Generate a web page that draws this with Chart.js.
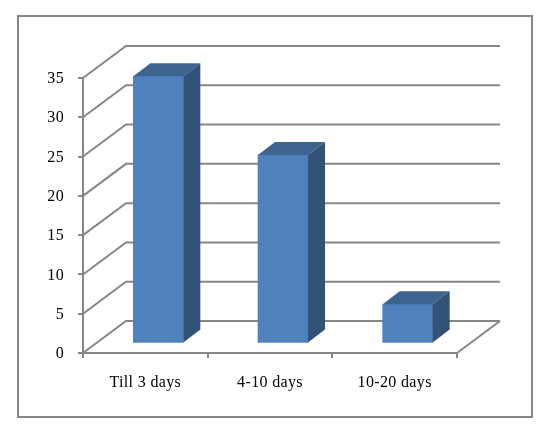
<!DOCTYPE html>
<html>
<head>
<meta charset="utf-8">
<script src="https://cdn.jsdelivr.net/npm/chart.js@4"></script>
<style>
  html, body { margin: 0; padding: 0; background: #fff; }
  #wrap { width: 550px; height: 439px; }
</style>
</head>
<body>
<div id="wrap"><canvas id="myChart"></canvas></div>
<script>
const categories = ['Till 3 days', '4-10 days', '10-20 days'];
const dayCounts = [34, 24, 5];
const yTicks = [0, 5, 10, 15, 20, 25, 30, 35];

const lineColor = '#868686';
const wallDx = 43, wallDy = 32;   // depth of the floor
const barDx = 13, barDy = 9.5;    // bars stand inside the floor
const sideDx = 17, sideDy = 13;   // depth of a bar

const frame3d = {
  id: 'frame3d',
  beforeDraw(chart) {
    const c = chart.ctx;
    c.letterSpacing = '0.35px'; // the labels in the picture run wide
    c.save();
    c.strokeStyle = lineColor;
    c.lineWidth = 2;
    c.strokeRect(18, 16, 514, 401);
    c.restore();
  },
  beforeDatasetsDraw(chart) {
    const c = chart.ctx, a = chart.chartArea, y = chart.scales.y;
    c.save();
    c.strokeStyle = lineColor;
    c.lineWidth = 2;
    c.beginPath();
    yTicks.forEach(v => {
      const py = y.getPixelForValue(v);
      c.moveTo(a.left, py);
      c.lineTo(a.left + wallDx, py - wallDy);
      c.lineTo(a.right + wallDx, py - wallDy);
    });
    // right edge of the floor
    c.moveTo(a.right, a.bottom);
    c.lineTo(a.right + wallDx, a.bottom - wallDy);
    c.stroke();
    c.restore();
  },
  beforeDatasetDraw(chart) {
    chart.ctx.save();
    chart.ctx.translate(barDx, -barDy);
  },
  afterDatasetDraw(chart, args) {
    const c = chart.ctx;
    args.meta.data.forEach(bar => {
      const l = bar.x - bar.width / 2, r = bar.x + bar.width / 2;
      c.fillStyle = '#3d6491';
      c.beginPath();
      c.moveTo(l, bar.y);
      c.lineTo(l + sideDx, bar.y - sideDy);
      c.lineTo(r + sideDx, bar.y - sideDy);
      c.lineTo(r, bar.y);
      c.closePath();
      c.fill();
      c.fillStyle = '#325278';
      c.beginPath();
      c.moveTo(r, bar.y);
      c.lineTo(r + sideDx, bar.y - sideDy);
      c.lineTo(r + sideDx, bar.base - sideDy);
      c.lineTo(r, bar.base);
      c.closePath();
      c.fill();
    });
    c.restore();
  }
};

new Chart(document.getElementById('myChart').getContext('2d'), {
  type: 'bar',
  data: {
    labels: categories,
    datasets: [{
      data: dayCounts,
      backgroundColor: '#4f81bd',
      borderWidth: 0,
      barThickness: 50
    }]
  },
  options: {
    responsive: true,
    maintainAspectRatio: false,
    animation: false,
    events: [],
    layout: { padding: { top: 78, right: 93, left: 0, bottom: 0 } },
    plugins: { legend: { display: false }, tooltip: { enabled: false } },
    scales: {
      x: {
        afterFit(s) { s.height = 86; },
        border: { color: lineColor, width: 2 },
        grid: { drawOnChartArea: false, color: lineColor, lineWidth: 2, tickLength: 5 },
        ticks: { color: '#000', padding: 15, maxRotation: 0, font: { family: '"Liberation Serif"', size: 16 } }
      },
      y: {
        min: 0,
        max: 35,
        afterFit(s) { s.width = 83; },
        afterBuildTicks(s) { s.ticks = yTicks.map(v => ({ value: v })); },
        border: { color: lineColor, width: 2 },
        grid: { drawOnChartArea: false, color: lineColor, lineWidth: 2, tickLength: 5 },
        ticks: { color: '#000', padding: 14, labelOffset: 1, font: { family: '"Liberation Serif"', size: 16 } }
      }
    }
  },
  plugins: [frame3d]
});
</script>
</body>
</html>
